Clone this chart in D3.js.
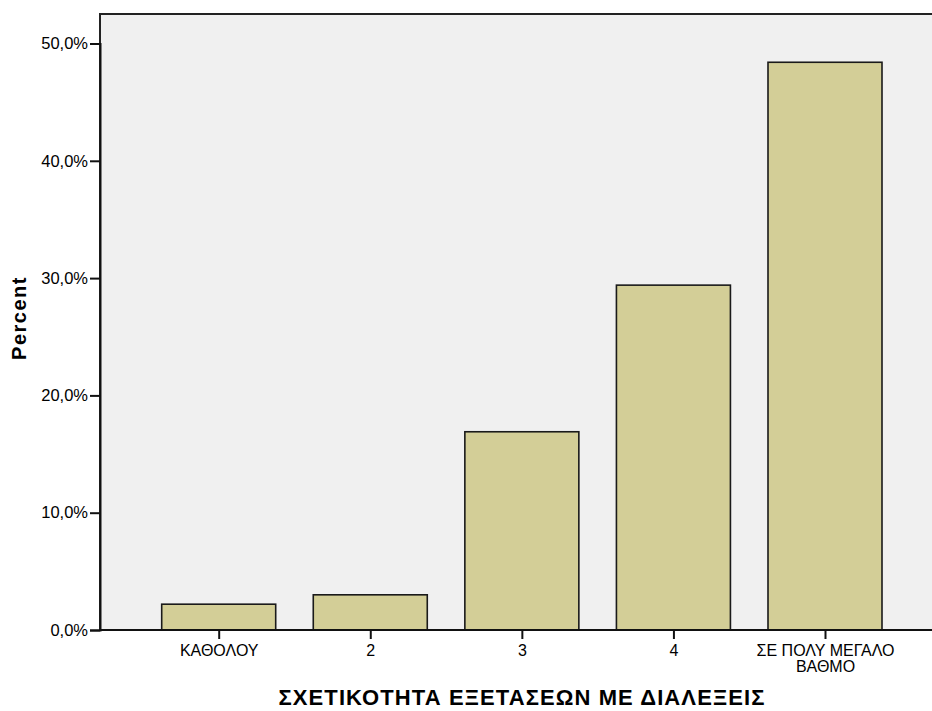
<!DOCTYPE html>
<html><head><meta charset="utf-8">
<script src="https://cdn.jsdelivr.net/npm/d3@7"></script>
<style>body{margin:0;background:#fff}svg{display:block}text{font-family:"Liberation Sans",Arial,sans-serif;fill:#000}</style>
</head><body><svg id="c" width="932" height="711"></svg>
<script>
const categories = ["ΚΑΘΟΛΟΥ", "2", "3", "4", "ΣΕ ΠΟΛΥ ΜΕΓΑΛΟ|ΒΑΘΜΟ"];
const percentValues = [2.2, 3.0, 16.9, 29.4, 48.4];
const yTicks = [0, 10, 20, 30, 40, 50];
const xTitle = "ΣΧΕΤΙΚΟΤΗΤΑ ΕΞΕΤΑΣΕΩΝ ΜΕ ΔΙΑΛΕΞΕΙΣ";
const yTitle = "Percent";

const svg = d3.select("#c");
const plot = {left: 100, top: 14, right: 960, bottom: 630};
const y = d3.scaleLinear().domain([0, 50]).range([630, 43.5]);
const x = d3.scalePoint().domain(categories).range([218.7, 825]);
const barW = 114;

svg.append("rect").attr("x", plot.left).attr("y", plot.top)
  .attr("width", plot.right - plot.left).attr("height", plot.bottom - plot.top)
  .attr("fill", "#f0f0f0").attr("stroke", "#222").attr("stroke-width", 2);

svg.selectAll("rect.bar").data(percentValues).join("rect").attr("class", "bar")
  .attr("x", (d, i) => x(categories[i]) - barW / 2)
  .attr("y", d => y(d))
  .attr("width", barW)
  .attr("height", d => y(0) - y(d))
  .attr("fill", "#d3ce97").attr("stroke", "#1a1a1a").attr("stroke-width", 1.6);

const fmt = v => d3.format(".1f")(v).replace(".", ",") + "%";
const yAxis = d3.axisLeft(y).tickValues(yTicks).tickFormat(fmt).tickSize(10).tickPadding(2);
const gy = svg.append("g").attr("transform", `translate(${plot.left},0)`).call(yAxis);
gy.select(".domain").attr("stroke", "#111").attr("stroke-width", 2);
gy.selectAll(".tick line").attr("stroke", "#111").attr("stroke-width", 2);
gy.selectAll(".tick text").attr("font-size", 16.5).attr("font-family", "Liberation Sans, Arial, sans-serif").attr("fill", "#111");

const xAxis = d3.axisBottom(x).tickSize(9).tickFormat(() => "");
const gx = svg.append("g").attr("transform", `translate(0,${plot.bottom})`).call(xAxis);
gx.select(".domain").attr("stroke", "#111").attr("stroke-width", 2).attr("d", `M${plot.left},0H${plot.right}`);
gx.selectAll(".tick line").attr("stroke", "#111").attr("stroke-width", 2);
gx.selectAll(".tick").each(function(d) {
  const lines = d.split("|");
  const t = d3.select(this).append("text").attr("text-anchor", "middle")
    .attr("font-size", 16).attr("fill", "#111");
  lines.forEach((l, i) => t.append("tspan").attr("x", 0).attr("y", 26 + i * 16).text(l));
});

svg.append("text").attr("x", 522).attr("y", 705).attr("text-anchor", "middle")
  .attr("font-size", 22).attr("font-weight", "bold").attr("letter-spacing", 1.1).text(xTitle);
svg.append("text").attr("transform", "translate(26,318) rotate(-90)").attr("text-anchor", "middle")
  .attr("font-size", 20).attr("font-weight", "bold").attr("letter-spacing", 1.5).text(yTitle);
</script></body></html>
